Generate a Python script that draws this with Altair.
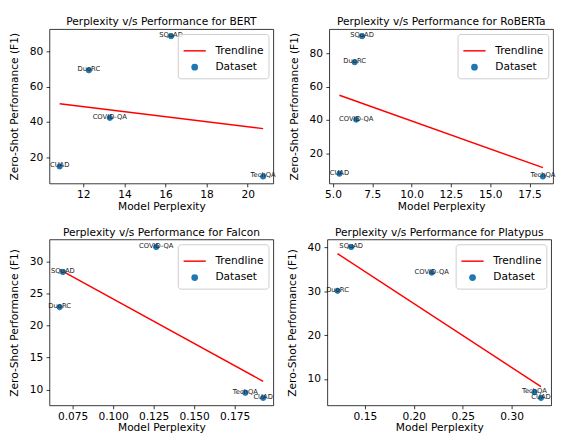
import altair as alt
import pandas as pd

datasets = ["CUAD", "DuoRC", "COVID-QA", "SQuAD", "TechQA"]

bert_ppl = [10.85, 12.27, 13.29, 16.27, 20.75]
bert_f1 = [14.9, 69.3, 42.4, 88.6, 9.2]
roberta_ppl = [5.41, 6.38, 6.48, 6.85, 18.35]
roberta_f1 = [7.8, 74.6, 40.2, 90.2, 6.1]
falcon_ppl = [0.1926, 0.067, 0.1266, 0.069, 0.1816]
falcon_f1 = [8.7, 22.9, 32.3, 28.4, 9.5]
platypus_ppl = [0.330, 0.122, 0.2183, 0.136, 0.3233]
platypus_f1 = [5.7, 30.15, 34.3, 40.15, 7.0]

bert_xticks = [12, 14, 16, 18, 20]
bert_yticks = [20, 40, 60, 80]
roberta_xticks = [5.0, 7.5, 10.0, 12.5, 15.0, 17.5]
roberta_yticks = [20, 40, 60, 80]
falcon_xticks = [0.075, 0.100, 0.125, 0.150, 0.175]
falcon_yticks = [10, 15, 20, 25, 30]
platypus_xticks = [0.15, 0.20, 0.25, 0.30]
platypus_yticks = [10, 20, 30, 40]

series_names = ["Trendline", "Dataset"]
FONT = "DejaVu Sans"
FS = 11
W = 232
H_TOP, H_BOTTOM = 160, 172

IND = dict(color="independent", stroke="independent", shape="independent", size="independent",
           x="independent", y="independent")


def padded(vals, frac=0.05):
    lo, hi = min(vals), max(vals)
    r = hi - lo
    return [lo - frac * r, hi + frac * r]


def panel(model, ppl, f1, xticks, yticks, xfmt, h):
    df = pd.DataFrame({"ppl": ppl, "f1": f1, "label": datasets, "series": ["Dataset"] * len(ppl)})
    base = alt.Chart(df)
    x = alt.X("ppl:Q", scale=alt.Scale(domain=padded(ppl), nice=False, zero=False),
              axis=alt.Axis(values=xticks, format=xfmt, title="Model Perplexity"))
    y = alt.Y("f1:Q", scale=alt.Scale(domain=padded(f1), nice=False, zero=False),
              axis=alt.Axis(values=yticks, format="d", title="Zero-Shot Performance (F1)"))
    leg = alt.Legend(title=None, orient="top-right", offset=5, padding=5,
                     strokeColor="#cccccc", fillColor="rgba(255,255,255,0.8)", cornerRadius=3,
                     labelFontSize=FS, labelFont=FONT, labelColor="black",
                     symbolStrokeWidth=1.5, rowPadding=5, labelOffset=9, symbolOpacity=1)
    color = alt.Color("series:N", scale=alt.Scale(domain=series_names, range=["red", "#1f77b4"]), legend=leg)
    stroke = alt.Stroke("series:N", scale=alt.Scale(domain=series_names, range=["red", "#1f77b4"]), legend=leg)
    shape = alt.Shape("series:N", scale=alt.Scale(domain=series_names, range=["stroke", "circle"]), legend=leg)
    size = alt.Size("series:N", scale=alt.Scale(domain=series_names, range=[529, 30]), legend=leg)

    line = base.transform_regression("ppl", "f1").transform_calculate(series="'Trendline'").mark_line(
        strokeWidth=1.5).encode(x=x, y=y, color=color)
    pts = base.mark_point(filled=True, opacity=1, strokeWidth=1).encode(
        x=x, y=y, color=color, stroke=stroke, shape=shape, size=size)
    txt = base.mark_text(fontSize=7, font=FONT, baseline="alphabetic", dy=1, color="#222222").encode(
        x=x, y=y, text="label:N")
    return alt.layer(line, pts, txt).properties(
        width=W, height=h,
        title=alt.TitleParams(f"Perplexity v/s Performance for {model}", fontSize=FS, font=FONT,
                              fontWeight="normal", offset=2, color="black"))


p1 = panel("BERT", bert_ppl, bert_f1, bert_xticks, bert_yticks, "d", H_TOP)
p2 = panel("RoBERTa", roberta_ppl, roberta_f1, roberta_xticks, roberta_yticks, ".1f", H_TOP)
p3 = panel("Falcon", falcon_ppl, falcon_f1, falcon_xticks, falcon_yticks, ".3f", H_BOTTOM)
p4 = panel("Platypus", platypus_ppl, platypus_f1, platypus_xticks, platypus_yticks, ".2f", H_BOTTOM)

chart = alt.vconcat(
    alt.hconcat(p1, p2, spacing=12).resolve_scale(**IND),
    alt.hconcat(p3, p4, spacing=12).resolve_scale(**IND),
    spacing=15,
).resolve_scale(**IND).configure(
    font=FONT, padding=0
).configure_view(stroke="black", strokeWidth=0.8).configure_axis(
    domain=False, grid=False, tickColor="black", tickSize=3.5, tickWidth=0.8,
    labelFontSize=FS, titleFontSize=FS, labelFont=FONT, titleFont=FONT,
    titleFontWeight="normal", labelColor="black", titleColor="black"
).configure_axisX(labelPadding=2, titlePadding=1).configure_axisY(labelPadding=3.5, titlePadding=10)

chart.save("out.html", embed_options={"renderer": "svg", "actions": False})
